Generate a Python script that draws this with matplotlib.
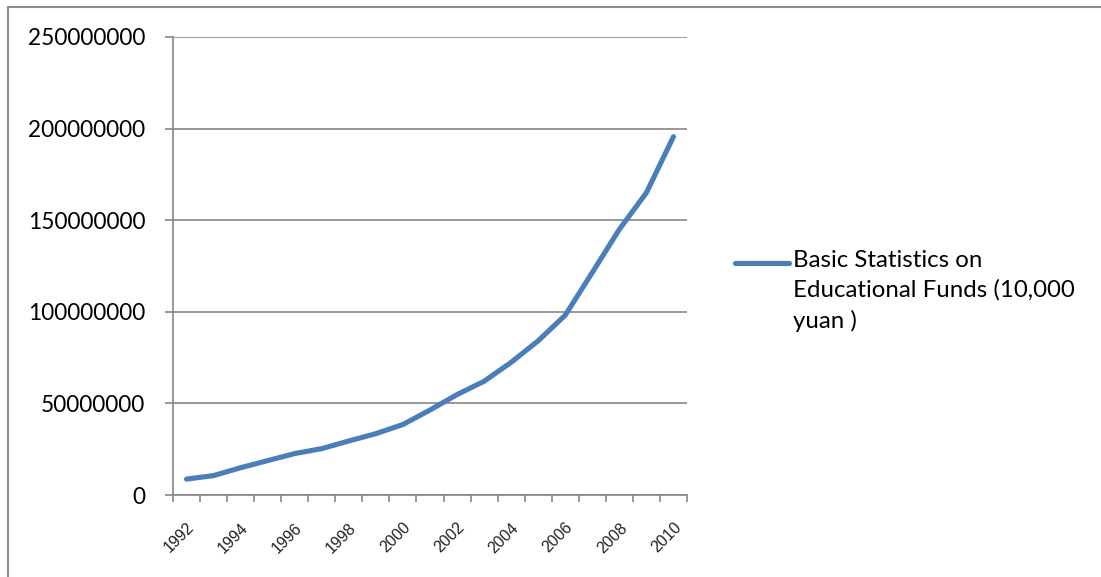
import matplotlib
matplotlib.use("Agg")
import matplotlib.pyplot as plt
import matplotlib.transforms as mtransforms
from matplotlib.lines import Line2D
import numpy as np

# Education funding in China, 10,000 yuan
years = [1992, 1993, 1994, 1995, 1996, 1997, 1998, 1999, 2000, 2001,
         2002, 2003, 2004, 2005, 2006, 2007, 2008, 2009, 2010]
funds = [8670491, 10599374, 14887813, 18779501, 22623394, 25317326,
         29490592, 33490416, 38490806, 46376626, 54800278, 62082653,
         72425989, 84188391, 98153087, 121480663, 145007374, 165027065,
         195618471]
y_ticks = [0, 50000000, 100000000, 150000000, 200000000, 250000000]
series_name = "Basic Statistics on\nEducational Funds (10,000\nyuan )"

W, H = 1101, 577
fig = plt.figure(figsize=(W / 100, H / 100), dpi=100)
ax = fig.add_axes([173 / W, 1 - 495 / H, (687 - 173) / W, (495 - 37) / H])

grid_color = "#868686"
line_color = "#4A7EBB"

x = np.arange(len(years))
line, = ax.plot(x, funds, color=line_color, lw=3.7, solid_capstyle="round",
                solid_joinstyle="round", zorder=3)

ax.set_xlim(-0.5, len(years) - 0.5)
ax.set_ylim(0, 250000000)
ax.set_yticks(y_ticks)
ax.set_yticklabels([str(v) for v in y_ticks], family="Lato", fontsize=16.3)
ax.yaxis.grid(True, color=grid_color, lw=1.2)
ax.set_axisbelow(True)

# category labels every other year, tick marks on category boundaries
ax.set_xticks(x[::2])
ax.set_xticklabels([str(y) for y in years[::2]], rotation=45, ha="right",
                   rotation_mode="anchor", family="Liberation Sans",
                   fontsize=11.5, color="#222222")
shift = mtransforms.ScaledTranslation(-5 / 100, 0, fig.dpi_scale_trans)
for lbl in ax.get_xticklabels():
    lbl.set_transform(lbl.get_transform() + shift)
ax.set_xticks(np.arange(-0.5, len(years)), minor=True)
ax.tick_params(axis="x", which="major", length=0, pad=18)
ax.tick_params(axis="x", which="minor", length=5, width=1.2, color=grid_color)
ax.tick_params(axis="y", length=6, width=1.2, color=grid_color, pad=14)

for side in ("top", "right"):
    ax.spines[side].set_visible(False)
for side in ("left", "bottom"):
    ax.spines[side].set_color(grid_color)
    ax.spines[side].set_linewidth(1.2)

# legend on the right
legend_y = 1 - 263 / H
fig.add_artist(Line2D([735 / W, 789 / W], [legend_y, legend_y],
                      color=line_color, lw=3.7, solid_capstyle="round"))
fig.text(793 / W, 1 - 250 / H, series_name, family="Lato", fontsize=17.3,
         va="top", ha="left", linespacing=1.48)

# chart area border
fig.add_artist(Line2D([8 / W, 8 / W, 1.0], [0.0, 1 - 7 / H, 1 - 7 / H],
                      color="#8C8C8C", lw=1.5))

fig.savefig("out.png", dpi=100)
